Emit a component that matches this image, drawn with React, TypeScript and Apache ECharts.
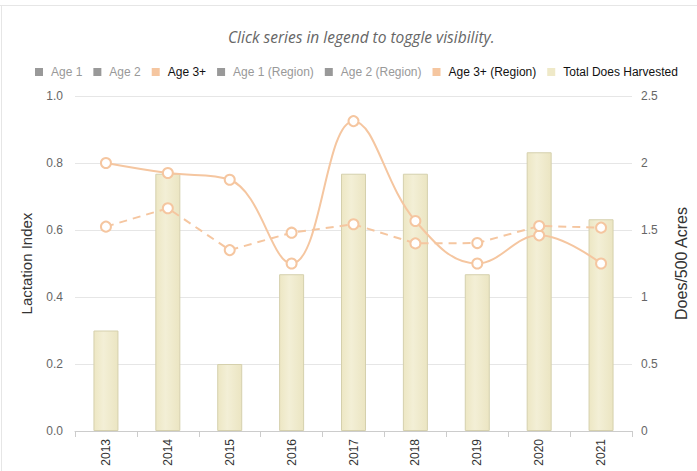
import React, { useEffect, useRef } from "react";
import * as echarts from "echarts";

const years = ["2013", "2014", "2015", "2016", "2017", "2018", "2019", "2020", "2021"];
const age3: number[] = [0.8, 0.77, 0.75, 0.5, 0.925, 0.627, 0.5, 0.584, 0.5];
const age3Region: number[] = [0.61, 0.665, 0.54, 0.592, 0.617, 0.56, 0.561, 0.612, 0.607];
const totalDoes: number[] = [0.75, 1.92, 0.5, 1.17, 1.92, 1.92, 1.17, 2.08, 1.58];
const age1: number[] = [];
const age2: number[] = [];
const age1Region: number[] = [];
const age2Region: number[] = [];
const leftTicks = ["0.0", "0.2", "0.4", "0.6", "0.8", "1.0"];

const peach = "#f5c6a0";
const barFill = "#efe9c8";

export default function App() {
  const ref = useRef<HTMLDivElement>(null);
  useEffect(() => {
    if (!ref.current) return;
    const chart = echarts.init(ref.current, null, { renderer: "svg" });
    const lineCommon = {
      type: "line",
      yAxisIndex: 0,
      symbol: "circle",
      symbolSize: 10,
      itemStyle: { color: "#fff", borderColor: peach, borderWidth: 2 },
      z: 5,
    };
    const icon = (color: string) => ({ color, borderWidth: 0 });
    chart.setOption({
      animation: false,
      backgroundColor: "#fff",
      title: {
        text: "Click series in legend to toggle visibility.",
        left: 223,
        top: 24,
        textStyle: {
          fontFamily: "Open Sans",
          fontStyle: "italic",
          fontWeight: "normal",
          fontSize: 15.5,
          color: "#666",
        },
      },
      legend: {
        top: 61,
        left: 30,
        icon: "rect",
        itemWidth: 8,
        itemHeight: 8,
        itemGap: 11,
        inactiveColor: "#999",
        inactiveBorderWidth: 0,
        textStyle: { fontFamily: "Liberation Sans", fontSize: 12, color: "#111", padding: [0, 0, 0, 3] },
        data: [
          { name: "Age 1", itemStyle: icon("#888") },
          { name: "Age 2", itemStyle: icon("#888") },
          { name: "Age 3+", itemStyle: icon(peach) },
          { name: "Age 1 (Region)", itemStyle: icon("#888") },
          { name: "Age 2 (Region)", itemStyle: icon("#888") },
          { name: "Age 3+ (Region)", itemStyle: icon(peach) },
          { name: "Total Does Harvested", itemStyle: icon(barFill) },
        ],
        selected: {
          "Age 1": false,
          "Age 2": false,
          "Age 1 (Region)": false,
          "Age 2 (Region)": false,
        },
      },
      grid: { left: 75, right: 61, top: 96, bottom: 40, containLabel: false },
      xAxis: {
        type: "category",
        data: years,
        boundaryGap: true,
        axisLine: { lineStyle: { color: "#ccc" } },
        axisTick: { show: true, length: 6, lineStyle: { color: "#ccc" } },
        axisLabel: {
          rotate: 90,
          margin: 8,
          fontFamily: "Liberation Sans",
          fontSize: 12,
          color: "#333",
        },
      },
      yAxis: [
        {
          type: "value",
          min: 0,
          max: 1,
          interval: 0.2,
          name: "Lactation Index",
          nameLocation: "middle",
          nameGap: 41,
          nameRotate: 90,
          nameTextStyle: { fontFamily: "Liberation Sans", fontSize: 15, color: "#333" },
          axisLine: { show: false },
          axisTick: { show: false },
          splitLine: { lineStyle: { color: "#e6e6e6" } },
          axisLabel: {
            fontFamily: "Liberation Sans",
            fontSize: 12,
            color: "#666",
            margin: 12,
            formatter: (v: number) => leftTicks[Math.round(v / 0.2)] ?? v.toFixed(1),
          },
        },
        {
          type: "value",
          min: 0,
          max: 2.5,
          interval: 0.5,
          name: "Does/500 Acres",
          nameLocation: "middle",
          nameGap: 41,
          nameRotate: 90,
          nameTextStyle: { fontFamily: "Liberation Sans", fontSize: 16, color: "#333" },
          axisLine: { show: false },
          axisTick: { show: false },
          splitLine: { show: false },
          axisLabel: {
            fontFamily: "Liberation Sans",
            fontSize: 12,
            color: "#666",
            margin: 9,
          },
        },
      ],
      series: [
        { ...lineCommon, name: "Age 1", data: age1 },
        { ...lineCommon, name: "Age 2", data: age2 },
        {
          ...lineCommon,
          name: "Age 3+",
          data: age3,
          smooth: 0.4,
          lineStyle: { color: peach, width: 2 },
        },
        { ...lineCommon, name: "Age 1 (Region)", data: age1Region },
        { ...lineCommon, name: "Age 2 (Region)", data: age2Region },
        {
          ...lineCommon,
          name: "Age 3+ (Region)",
          data: age3Region,
          lineStyle: { color: peach, width: 2, type: [8, 6] },
        },
        {
          name: "Total Does Harvested",
          type: "bar",
          yAxisIndex: 1,
          data: totalDoes,
          barWidth: 25,
          z: 2,
          itemStyle: {
            color: new echarts.graphic.LinearGradient(0, 0, 1, 0, [
              { offset: 0, color: "#ede7c4" },
              { offset: 0.4, color: "#f3efd6" },
              { offset: 1, color: "#ebe5c2" },
            ]),
            borderColor: "#d5d0ad",
            borderWidth: 1,
          },
        },
      ],
      graphic: [
        { type: "line", shape: { x1: 0, y1: 5.5, x2: 697, y2: 5.5 }, style: { stroke: "#e6e6e6", lineWidth: 1 } },
        { type: "line", shape: { x1: 1.5, y1: 5, x2: 1.5, y2: 471 }, style: { stroke: "#e6e6e6", lineWidth: 1 } },
      ],
    });
    return () => chart.dispose();
  }, []);
  return (
    <div
      ref={ref}
      style={{ position: "fixed", left: 0, top: 0, width: 697, height: 471 }}
    />
  );
}
